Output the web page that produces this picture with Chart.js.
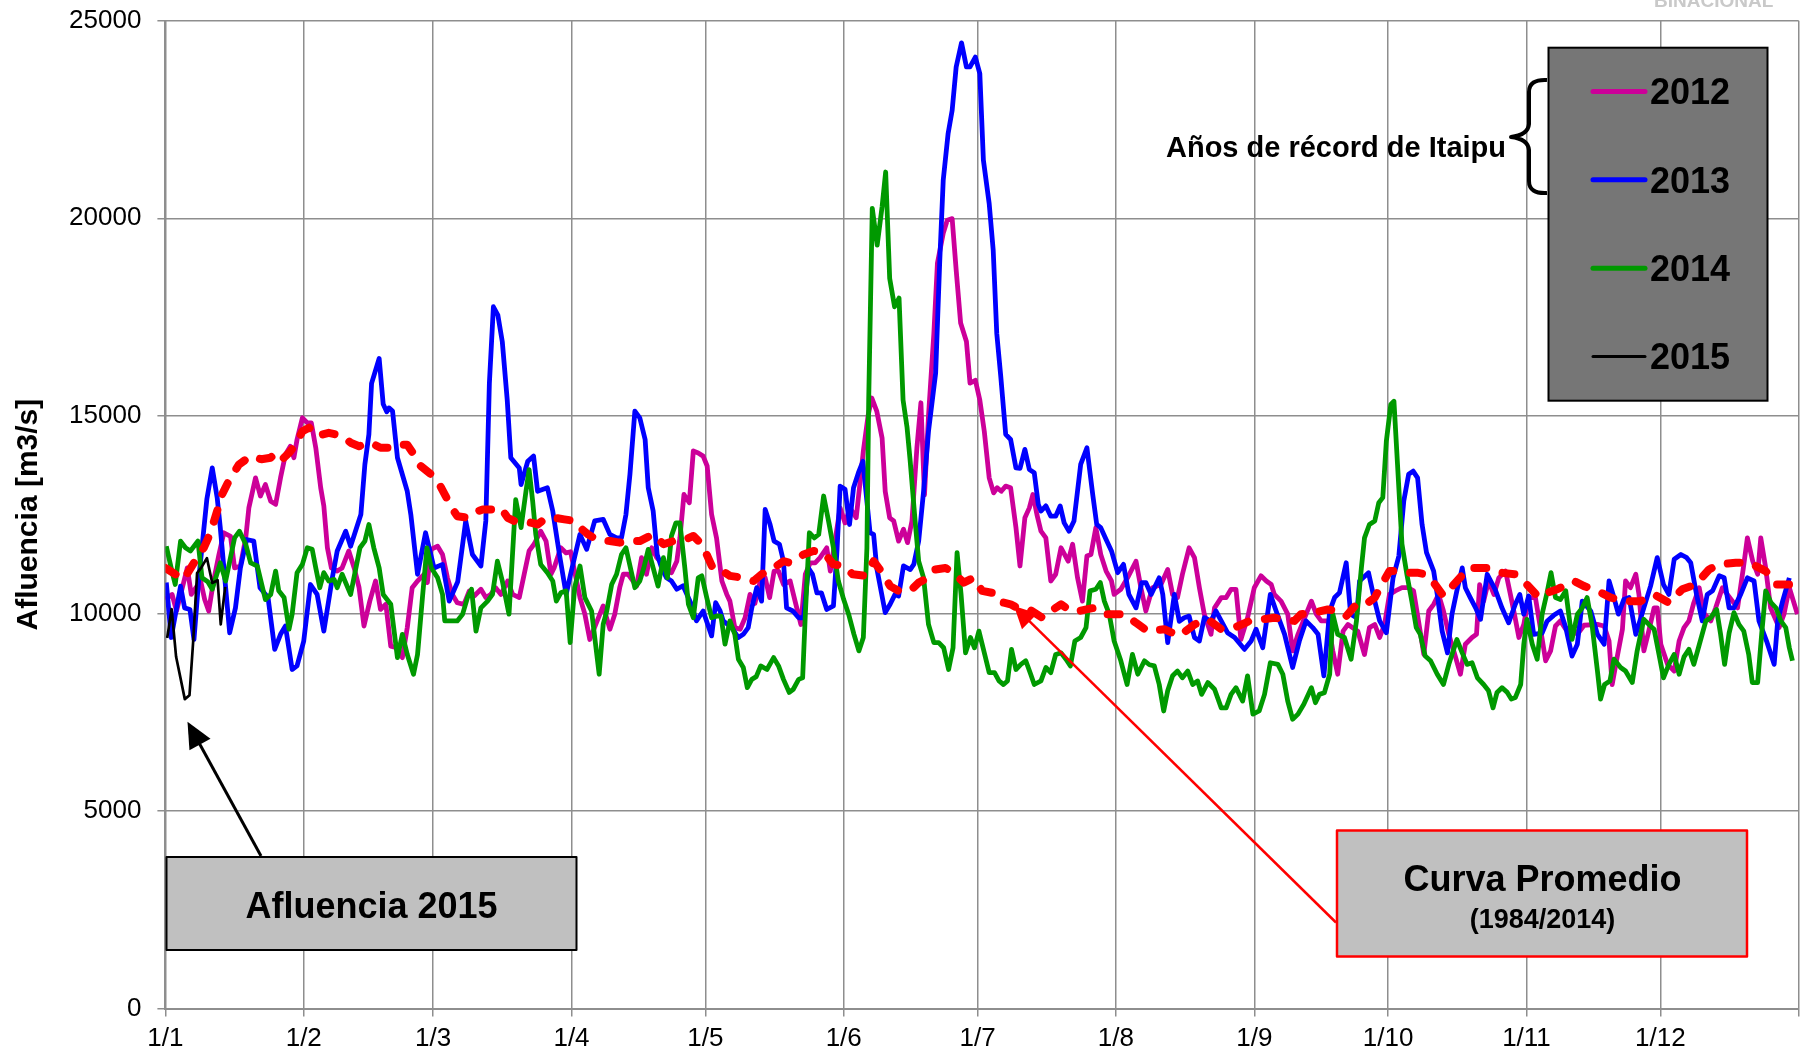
<!DOCTYPE html>
<html>
<head>
<meta charset="utf-8">
<script src="https://cdn.jsdelivr.net/npm/chart.js@4.4.1/dist/chart.umd.min.js"></script>
<style>
  html, body { margin: 0; padding: 0; background: #ffffff; }
  #wrap { position: relative; width: 1801px; height: 1055px; }
  canvas { display: block; }
</style>
</head>
<body>
<div id="wrap"><canvas id="c" width="1801" height="1055"></canvas></div>
<script>
// ---------------- DATA ----------------
const monthTicks  = [0, 31, 60, 91, 121, 152, 182, 213, 244, 274, 305, 335, 366];
const monthLabels = ['1/1','1/2','1/3','1/4','1/5','1/6','1/7','1/8','1/9','1/10','1/11','1/12',''];
const yTicks = [0, 5000, 10000, 15000, 20000, 25000];
const seriesNames = ['2012', '2013', '2014', '2015'];
const avgName = 'Curva Promedio (1984/2014)';

// [day of year, m3/s]
const flow2012 = [[0,10350],[1.5,10480],[2.5,10060],[4.9,11150],[5.8,10480],[7.9,10820],[8.8,10350],[9.7,10060],[10.8,10820],[12,11490],[13.1,12040],[14.6,11950],[15.5,11150],[16.8,11200],[18,11910],[18.7,12670],[20.2,13430],[21.3,12970],[22.4,13260],[23.6,12840],[24.7,12760],[25.8,13430],[26.9,14020],[28,14230],[28.8,13940],[29.5,14400],[30.7,14950],[31.8,14820],[32.7,14820],[33.7,14190],[34.8,13180],[35.5,12720],[36.3,11660],[37.2,11150],[38.5,11070],[39.6,11150],[41.1,11580],[42.3,11150],[43.4,10650],[44.5,9680],[45.8,10310],[47.1,10820],[48.2,10100],[49.4,10230],[50.5,9170],[51.8,9130],[53.1,8880],[54.2,9640],[55.3,10650],[56.5,10820],[58,10990],[58.7,10780],[59.5,11620],[61,11700],[62.1,11490],[63.2,10900],[64.3,10480],[65.4,10270],[66.9,10230],[68.1,10570],[69.2,10440],[70.7,10610],[71.8,10400],[72.9,10480],[74,10650],[75.2,10480],[76.7,10820],[77.8,10480],[79.3,10400],[80.4,10990],[81.5,11580],[82.6,11750],[84.1,12080],[85.3,11830],[86.4,10990],[87.1,11150],[88.6,11660],[89.8,11530],[90.8,11560],[92.9,10400],[94,9980],[95.1,9340],[98.1,10190],[99.6,9600],[100.7,9980],[101.8,10650],[102.6,10990],[103.7,10990],[105.6,10690],[106.7,11410],[107.8,10990],[109,11660],[110.1,11410],[112.3,11150],[113.4,11030],[114.6,11320],[115.3,11910],[116.2,13010],[117.4,12800],[118.3,14110],[119.4,14060],[120.5,13980],[121.4,13730],[122.4,12500],[123.5,11910],[124.7,10820],[125.8,10480],[126.5,10310],[127.6,9640],[128.8,9600],[129.9,9890],[131,10480],[132.1,10250],[133.3,10820],[134.4,10900],[135.4,10400],[136.4,11070],[137.4,11070],[138.5,10730],[140,10820],[141.1,10310],[142.4,9720],[143.4,10990],[144.5,11280],[145.6,11280],[146.7,11410],[148.2,11660],[149,11070],[151.2,12670],[152.3,12290],[153.4,12670],[154.8,12420],[155.7,13350],[156.4,14110],[157.5,15030],[158.3,15450],[159.4,15120],[160.6,14440],[161.3,13090],[162.3,12420],[163.2,12340],[164.3,11830],[165.4,12130],[166.3,11790],[167.3,12340],[168.4,14190],[169.3,15330],[170.1,13000],[171,15000],[172.2,17080],[173,18860],[174.3,19620],[175.2,19950],[176.3,19990],[177.2,18690],[178.2,17350],[179.5,16880],[180.3,15830],[181.5,15900],[182.5,15400],[183.5,14610],[184.6,13430],[185.6,13050],[186.4,13180],[187.3,13090],[188.3,13220],[189.4,13180],[190.6,12170],[191.5,11200],[192.6,12420],[193.6,12670],[194.4,13010],[195.3,12500],[196.2,12080],[197.3,11910],[198.4,10820],[199.5,10990],[200.7,11660],[202.3,11320],[203.3,11750],[204.4,10900],[205.5,10310],[206.5,11450],[207.4,11490],[208.5,12170],[209.6,11490],[210.8,11070],[212,10820],[212.6,10480],[214.1,10610],[215.6,10900],[217.5,11320],[218.6,10650],[219.7,10060],[221.2,10650],[223.1,10730],[224.6,11110],[225.7,10480],[226.8,10400],[227.9,10990],[229.4,11660],[230.6,11410],[231.7,10650],[232.8,9980],[234.3,9470],[235.1,10140],[236.6,10400],[237.7,10400],[238.8,10610],[239.9,10610],[241,9340],[242.5,9890],[244,10650],[245.5,10950],[246.7,10820],[247.8,10730],[248.5,10480],[250,10310],[251.5,9980],[252.6,9050],[253.8,9470],[255.3,9890],[256.8,10310],[257.9,9980],[259,9810],[260.5,9810],[261.6,9050],[262.7,8460],[263.9,9550],[265,9720],[267.2,9550],[268.7,8960],[269.8,9640],[271,9720],[272.1,9390],[273.2,9720],[274.3,10480],[275.6,10570],[277.1,10650],[278.5,10650],[279.7,10570],[280.8,9810],[282,8960],[283.1,10060],[284.2,10230],[285.3,10480],[286.4,10060],[287.6,9470],[288.7,9050],[290.2,8460],[291.3,9220],[292.8,9390],[293.8,9470],[294.5,10730],[295.4,10310],[296.5,10820],[297.7,10480],[298.8,10900],[300.3,11070],[301.4,10480],[302.3,9980],[303.3,9390],[304.4,9720],[305.5,10400],[307,10400],[308.1,9640],[309.3,8800],[310.4,9050],[311.5,9680],[312.6,9810],[313.8,9600],[315.2,9640],[316.4,9470],[317.9,9700],[320.9,9720],[322.4,9680],[323.5,9300],[324.2,8200],[325.3,8880],[326.5,9600],[327.2,10820],[328.3,10650],[329.5,10990],[330.2,10480],[331.3,9050],[332.4,9550],[333.6,10140],[334.3,10140],[335.1,9220],[336.6,8710],[338.1,8540],[339.2,9300],[340.3,9640],[341.4,9810],[342.5,10270],[343.7,10650],[344.8,10000],[346.3,9810],[347.4,10140],[348.9,10650],[350,10480],[352.3,10140],[353.6,11150],[354.5,11910],[355.7,11320],[356.8,10990],[357.5,11910],[358.6,11150],[359.7,10140],[361.6,9640],[362.7,9980],[363.9,10650],[365.7,9980]];

const flow2013 = [[0.2,10780],[1.3,9390],[3.4,10690],[4.3,10140],[5.5,10100],[6.4,9340],[7.5,10900],[9.3,12900],[10.5,13680],[11.6,12930],[12.3,12170],[13.5,10650],[14.4,9510],[15.7,10140],[16.8,11150],[18.2,11870],[19.8,11830],[21.2,10650],[23,10400],[24.5,9090],[25.8,9470],[26.9,9680],[28.4,8580],[29.5,8670],[31,9300],[32.5,10730],[34,10480],[35.5,9550],[37.4,10900],[38.5,11580],[40.4,12080],[41.5,11700],[43.8,12500],[44.7,13770],[45.6,14530],[46.2,15820],[47.9,16450],[48.8,15300],[49.6,15100],[50.1,15200],[50.9,15120],[52,13940],[54.2,13090],[55,12500],[56.5,10990],[58.3,12040],[60.2,11150],[62.1,11240],[63.6,10310],[65.5,10800],[67.3,12340],[68.8,11490],[70.7,11200],[71.8,12340],[72.6,15830],[73.5,17760],[74.5,17550],[75.5,16870],[76.6,15400],[77.4,13940],[79.3,13680],[79.7,13260],[81.2,13850],[82.5,13980],[83.4,13090],[85.6,13180],[86.8,12590],[88.3,11490],[89.8,10480],[90.8,10990],[92.9,12000],[94.4,11620],[96.2,12340],[98.1,12380],[99.6,12000],[101.1,11910],[102.2,11910],[103.2,12500],[104.1,13520],[105.2,15120],[106.3,14950],[107.5,14400],[108.2,13180],[109.3,12590],[110.2,11490],[111.2,11150],[112.3,10900],[113.4,10820],[114.6,10610],[116,10700],[117.7,10270],[119,9810],[120.5,10060],[122.4,9430],[123.3,10270],[124.3,10060],[125,9810],[126.9,9640],[128.4,9390],[129.5,9470],[130.6,9640],[131.4,10140],[132.5,10650],[133.6,10310],[134.4,12630],[135.5,12250],[136.4,11830],[137.6,11750],[138.5,11320],[139.2,10140],[140.6,10060],[141.9,9890],[143,9890],[144.1,11150],[145,10990],[146,10520],[147,10520],[148.2,10100],[149.7,10190],[150.5,11600],[151.2,13220],[152.3,13140],[153.3,12250],[154.2,13180],[155.3,13560],[156.3,13850],[157.9,12040],[158.7,12000],[159.4,11150],[161.3,10020],[162.4,10230],[163.5,10480],[164.3,10440],[165.4,11200],[166.9,11110],[167.7,11240],[168.8,11830],[169.9,13090],[171,14610],[172.6,16080],[173.5,18860],[174.3,20960],[175.4,22150],[176.3,22730],[177.2,23830],[178.4,24440],[179.5,23830],[180.3,23830],[181.5,24080],[182.5,23660],[183.3,21470],[184.6,20370],[185.5,19190],[186.3,17080],[187.2,15990],[188.3,14530],[189.4,14400],[190.6,13680],[191.5,13670],[192.6,14150],[193.6,13640],[194.7,13560],[195.6,12760],[196.2,12590],[197.3,12720],[198.4,12460],[199.5,12460],[200.5,12720],[201.4,12290],[202.5,12080],[203.6,12340],[205.1,13770],[206.5,14190],[207.8,13010],[208.7,12250],[209.6,12170],[210.8,11870],[212,11580],[213.4,11030],[214.7,11240],[215.9,10480],[217.5,10140],[218.8,10780],[219.7,10780],[220.9,10480],[222.7,10900],[223.5,10480],[224.6,9260],[226.1,10480],[227.2,9800],[228.3,9890],[229.4,9930],[230.6,9390],[231.7,9300],[232.8,9890],[234.3,9810],[235.4,10060],[236.6,9810],[238,9510],[239.6,9390],[241.8,9090],[243.3,9300],[244.4,9600],[245.9,9130],[247.6,10480],[248.9,10060],[250.8,9470],[252.6,8630],[254.1,9300],[255.6,9810],[257.1,9640],[258.3,9470],[259.6,8420],[260.9,10060],[262,10400],[263.1,10520],[264.6,11280],[265.6,9980],[266.9,9890],[267.6,10820],[269.6,11030],[271,10310],[272.1,9810],[273.6,9510],[275.1,10900],[276.4,11450],[277.5,12840],[278.6,13520],[279.6,13600],[280.6,13430],[281.6,12250],[282.6,11540],[284.2,11070],[285,10480],[286.1,9550],[287.3,9000],[288.3,9980],[289.4,10570],[290.6,11150],[291.3,10650],[292.4,10400],[293.6,10140],[294.7,9850],[296.2,10990],[298,10600],[299.5,10140],[301,9760],[302.5,10230],[303.5,10480],[304.4,9980],[305.5,10440],[306.6,9470],[308.5,9500],[309.6,9800],[311.1,9950],[312.6,10060],[313.8,9640],[315.2,8920],[316.4,9220],[317.5,10310],[319.4,10060],[320.9,9470],[322.4,9220],[323.5,10820],[324.4,10480],[325.6,9980],[326.8,10350],[328,10400],[329.5,9470],[331.3,10140],[332.8,10690],[334.3,11410],[335.7,10730],[336.9,10480],[338.1,11370],[339.6,11490],[340.9,11410],[341.8,11280],[343.1,10480],[344.4,9810],[345.5,10480],[346.7,10570],[348.2,10950],[349.3,10900],[350.4,10140],[351.5,10140],[353,10480],[354.5,10900],[356,10820],[357.1,9810],[358.8,9300],[360.5,8710],[361.3,9810],[362.4,10310],[363.9,10900]];

const flow2014 = [[0.2,11700],[1.3,11150],[2.2,10730],[3.4,11830],[4.5,11660],[5.6,11580],[7.3,11830],[8.2,10900],[9.5,10800],[10.5,10610],[12.3,11280],[13.5,10820],[15.5,11910],[16.6,12080],[18,11750],[19.1,11280],[20.6,11200],[22.4,10350],[23.6,10480],[24.7,11070],[25.4,10570],[26.6,10400],[27.7,9600],[28.4,9980],[29.5,11030],[30.7,11240],[31.8,11660],[32.9,11620],[33.7,11150],[34.6,10650],[35.5,11030],[36.6,10820],[37.8,10860],[38.5,10650],[39.6,10990],[41.5,10480],[43.6,11660],[44.7,11830],[45.6,12250],[46.7,11660],[47.9,11150],[48.8,10480],[50.5,10230],[52,8880],[53.1,9470],[54.2,8960],[55.6,8460],[56.5,8960],[57.6,10400],[58.6,11660],[59.6,11150],[61,10900],[62.1,10480],[62.6,9810],[63.9,9810],[65.4,9810],[66.6,9980],[67.7,10400],[68.6,10610],[69.6,9550],[70.7,10140],[72.2,10310],[73.3,10480],[74.4,11320],[75.5,10820],[77,9980],[78.5,12880],[79.7,12170],[80.8,13090],[81.5,13640],[82.3,12840],[83,12000],[84.1,11240],[85.6,11030],[86.8,10820],[87.6,10310],[88.6,10520],[89.8,10570],[90.7,9260],[91.7,10650],[92.9,11200],[94,10400],[95.5,10060],[97.2,8460],[98.1,9720],[98.9,10060],[100,10730],[101.1,10990],[102.2,11490],[103.2,11660],[105.2,10650],[106.3,10820],[107.2,11150],[108.2,11620],[109.3,11150],[110.4,10690],[111.6,11410],[112.5,10900],[113.4,11960],[114.4,12290],[115.3,12290],[116.4,11150],[117.2,10230],[118.3,9890],[119.4,10900],[120.2,10950],[121.3,10400],[122.4,9890],[123.5,9930],[124.5,9930],[125.4,9220],[126.5,9810],[127.6,9470],[128.4,8840],[129.5,8630],[130.4,8120],[131.4,8330],[132.4,8400],[133.4,8670],[134.8,8580],[136.3,8880],[137.4,8670],[138.5,8330],[139.8,8000],[140.7,8080],[141.9,8330],[142.8,8370],[143.4,9980],[144.3,12040],[145.4,11910],[146.4,12000],[147.5,12970],[148.6,12340],[149.7,11660],[150.8,10820],[152,10350],[153.1,9980],[154.3,9470],[155.4,9050],[156.4,9390],[157.2,11660],[157.6,15400],[158.4,20250],[159.5,19320],[160.6,20290],[161.4,21170],[162.3,18480],[163.4,17760],[164.4,17980],[165.3,15400],[166.2,14700],[166.9,13850],[168,12340],[168.8,11320],[169.9,10900],[171,9720],[172.2,9260],[173.3,9260],[174.4,9130],[175.5,8580],[176.5,9130],[177.4,11540],[178.3,10480],[179.3,9000],[180.4,9390],[181.3,9130],[182.3,9550],[183.6,8960],[184.6,8500],[185.8,8500],[186.8,8290],[187.8,8200],[188.7,8290],[189.6,9090],[190.6,8580],[191.7,8710],[192.8,8800],[193.9,8460],[194.7,8200],[196.2,8290],[197.3,8630],[198.4,8500],[199.5,8960],[200.7,9000],[201.8,8840],[202.8,8670],[203.8,9300],[205.1,9390],[206.3,9640],[207.2,10570],[208.5,10610],[209.5,10780],[210.4,10310],[211.5,9980],[212.6,9300],[214.1,8800],[215.5,8200],[216.7,8960],[217.9,8460],[219.4,8800],[220.5,8700],[221.6,8670],[222.7,8200],[223.7,7530],[224.6,8040],[225.7,8420],[226.8,8540],[227.9,8370],[229.1,8540],[230.2,8200],[231.3,8290],[232.2,7950],[233.6,8250],[235.1,8080],[236.6,7610],[237.7,7610],[238.8,7950],[239.9,8120],[241.4,7780],[242.5,8420],[243.7,7450],[245.1,7530],[246.3,7950],[247.6,8750],[249.3,8710],[250.4,8460],[251.5,7780],[252.6,7320],[253.8,7450],[255.1,7700],[256.8,8120],[257.7,7740],[258.6,7950],[259.7,7990],[260.9,8460],[261.6,9980],[262.7,9470],[264.2,9390],[265.7,8840],[266.9,9810],[268,11150],[268.7,11910],[269.8,12250],[271,12340],[271.9,12800],[272.8,12930],[273.6,14360],[274.6,15290],[275.3,15370],[276.1,13770],[277.1,11750],[278.2,10990],[279.3,10310],[280.3,9640],[281.2,9470],[282.3,8920],[283.5,8800],[285,8460],[286.4,8200],[287.6,8710],[289.4,9340],[290.6,9000],[291.7,8710],[292.8,8750],[294,8370],[295.4,8200],[296.5,8040],[297.5,7610],[298.4,8000],[299.5,8120],[300.7,8000],[301.6,7830],[302.5,7870],[303.7,8200],[304.4,9220],[305.1,9850],[306.3,9220],[307.4,8840],[308.5,9980],[309.6,10520],[310.5,11030],[311.5,10400],[312.6,10350],[313.8,10570],[315.2,9340],[316.4,9980],[317.5,10140],[318.6,10400],[319.7,9700],[320.9,8540],[321.6,7830],[322.5,8200],[323.7,8290],[324.6,8840],[326.1,8630],[327.2,8540],[328.7,8250],[329.8,9050],[331.3,9850],[332.4,9720],[333.6,9600],[334.7,8960],[335.7,8370],[336.9,8710],[338.1,8960],[339.2,8460],[340.3,8900],[341.4,9090],[342.5,8710],[343.7,9200],[345.2,9810],[346.3,9890],[347.6,10100],[348.5,9470],[349.4,8710],[350.4,9500],[351.5,10020],[352.6,9720],[353.7,9550],[354.8,8960],[355.6,8250],[356.8,8250],[357.7,9470],[358.6,10570],[359.8,10270],[360.9,10140],[362,9810],[363.1,9640],[363.9,9130],[364.6,8800]];

const flow2015 = [[0.4,9375],[1.4,10110],[2.4,8900],[4.35,7830],[5.4,7930],[6.2,9250],[7.1,11020],[8.0,11150],[9.3,11400],[10.5,10770],[11.7,10840],[12.4,9720],[13.4,10670]];

const flowAvg = [[0,11150],[4.1,10860],[6.4,11280],[8.6,11660],[10.1,12040],[11.6,12590],[12.7,13010],[14.2,13350],[16.5,13770],[19.1,13980],[21.5,13900],[23.6,13940],[24.7,14060],[26.2,13900],[27.7,14060],[29.2,14270],[30.7,14610],[32.2,14700],[34,14490],[36.6,14570],[39.6,14490],[41.5,14320],[43.4,14230],[46,14320],[48.2,14190],[50.5,14190],[52,14270],[54.2,14270],[55.7,14020],[57.2,13730],[59.5,13520],[61,13350],[62.8,12970],[63.9,12720],[65.4,12460],[67.7,12420],[69.2,12550],[71.1,12630],[73.3,12630],[75.2,12670],[76.7,12420],[78.2,12340],[80.4,12340],[83.4,12250],[84.9,12380],[87.1,12420],[89.4,12380],[91.6,12340],[92.9,12170],[94.7,12000],[96.6,11870],[99.6,11830],[101.8,11790],[103.7,11830],[106.3,11830],[109.3,12000],[111.6,11750],[113.8,11830],[115.7,11830],[118.3,11960],[120.2,11750],[121.1,11540],[122.8,11110],[125.4,11030],[126.5,10950],[129.5,10900],[131.8,10820],[133.6,10990],[136.3,11150],[138.5,11320],[140,11280],[143,11490],[145.2,11580],[147.5,11540],[149.7,11240],[152,11200],[154,10990],[156.8,10950],[158.7,11320],[160.9,10990],[162.4,10690],[164.3,10570],[166.9,10570],[168.8,10780],[171,10900],[172.5,11110],[174.8,11150],[176.6,11030],[178.9,10780],[181.1,10900],[183,10570],[185.3,10520],[186.4,10310],[189.4,10230],[190.9,10140],[193.6,10100],[196.5,9890],[198.4,10060],[200.7,10230],[202.9,10060],[204.8,10060],[208.1,10140],[210.4,9980],[214.9,9980],[217.5,9760],[220.1,9550],[223.8,9600],[227.2,9430],[230.6,9720],[233.6,9850],[236.6,9600],[239.6,9640],[243,9810],[248.5,9890],[250.4,9850],[253,9810],[254.5,9980],[257.5,10020],[260.5,10100],[262.7,10060],[264.6,9930],[267.2,10270],[269.5,10270],[271,10400],[272.8,10780],[274.3,11070],[276.2,11070],[278.2,11030],[280.5,11030],[282.3,10990],[284.2,10780],[286.4,10440],[289.1,10780],[292.1,11150],[296.2,11150],[299.2,11030],[302.5,10990],[305.1,10730],[307.8,10400],[309.6,10520],[311.9,10610],[315.6,10820],[317.9,10690],[320.9,10570],[323.9,10400],[326.8,10310],[330.6,10310],[333.6,10480],[336.9,10270],[339.9,10610],[342.9,10730],[345.9,11110],[348.2,11240],[351.9,11280],[354.9,11280],[358.6,11070],[360.9,10730],[363.9,10730],[365.4,10950]];

// ---------------- STYLE ----------------
const FONT = "'Liberation Sans', Arial, Helvetica, sans-serif";
const colors = { '2012': '#CC0099', '2013': '#0000FF', '2014': '#009900', '2015': '#000000', avg: '#FF0000' };
const gridColor = '#8e8e8e';
Chart.defaults.font.family = FONT;

const toXY = arr => arr.map(p => ({ x: p[0], y: p[1] }));

const annotations = {
  id: 'annotations',
  afterDraw(chart) {
    const c = chart.ctx;
    c.save();
    // faint logo text cut at top
    c.fillStyle = '#c9c9c9';
    c.font = 'bold 19px ' + FONT;
    c.textAlign = 'left'; c.textBaseline = 'alphabetic';
    c.fillText('BINACIONAL', 1654, 7);

    // legend box
    c.fillStyle = '#767676';
    c.fillRect(1548.5, 47.7, 219, 353);
    c.lineWidth = 2; c.strokeStyle = '#000';
    c.strokeRect(1548.5, 47.7, 219, 353);
    const ly = [91.5, 179.8, 268.2, 356.5];
    seriesNames.forEach((n, i) => {
      c.beginPath();
      c.strokeStyle = colors[n];
      c.lineWidth = n === '2015' ? 3 : 5;
      c.lineCap = 'round';
      c.moveTo(1593, ly[i]); c.lineTo(1645, ly[i]);
      c.stroke();
      c.fillStyle = '#000';
      c.font = 'bold 36px ' + FONT;
      c.textAlign = 'left'; c.textBaseline = 'alphabetic';
      c.fillText(n, 1650, ly[i] + 12.9);
    });

    // brace
    c.beginPath();
    c.strokeStyle = '#000'; c.lineWidth = 4; c.lineCap = 'butt'; c.lineJoin = 'round';
    c.moveTo(1547, 80);
    c.quadraticCurveTo(1529, 79, 1529, 92);
    c.lineTo(1529, 124);
    c.quadraticCurveTo(1528, 135, 1511, 137);
    c.quadraticCurveTo(1528, 139, 1529, 150);
    c.lineTo(1529, 181);
    c.quadraticCurveTo(1529, 194, 1547, 193);
    c.stroke();

    // "Años de récord de Itaipu"
    c.fillStyle = '#000';
    c.font = 'bold 29px ' + FONT;
    c.textAlign = 'right';
    c.fillText('Años de récord de Itaipu', 1506, 157);

    const arrow = (x0, y0, x1, y1, col, w, hl, hw) => {
      const dx = x1 - x0, dy = y1 - y0, L = Math.hypot(dx, dy);
      const ux = dx / L, uy = dy / L;
      c.beginPath();
      c.strokeStyle = col; c.lineWidth = w; c.lineCap = 'butt';
      c.moveTo(x0, y0); c.lineTo(x1 - ux * hl * 0.8, y1 - uy * hl * 0.8);
      c.stroke();
      c.beginPath();
      c.fillStyle = col;
      c.moveTo(x1, y1);
      c.lineTo(x1 - ux * hl - uy * hw, y1 - uy * hl + ux * hw);
      c.lineTo(x1 - ux * hl + uy * hw, y1 - uy * hl - ux * hw);
      c.closePath();
      c.fill();
    };
    // Afluencia 2015
    arrow(261, 856, 187.5, 721.7, '#000', 3, 26, 12);
    c.fillStyle = '#c0c0c0';
    c.fillRect(166.5, 857, 410, 93);
    c.lineWidth = 2; c.strokeStyle = '#000';
    c.strokeRect(166.5, 857, 410, 93);
    c.fillStyle = '#000';
    c.font = 'bold 36px ' + FONT;
    c.textAlign = 'center';
    c.fillText('Afluencia 2015', 371.5, 918);

    // Curva Promedio
    arrow(1336, 922.5, 1014, 606, '#FF0000', 2.5, 22, 11);
    c.fillStyle = '#c0c0c0';
    c.fillRect(1337, 830.5, 410, 126);
    c.lineWidth = 2.5; c.strokeStyle = '#FF0000';
    c.strokeRect(1337, 830.5, 410, 126);
    c.fillStyle = '#000';
    c.font = 'bold 36px ' + FONT;
    c.textAlign = 'center';
    c.fillText('Curva Promedio', 1542.5, 890.5);
    c.font = 'bold 27px ' + FONT;
    c.fillText('(1984/2014)', 1542.5, 927.5);
    c.restore();
  }
};

new Chart(document.getElementById('c'), {
  type: 'line',
  data: {
    datasets: [
      { label: '2015', data: toXY(flow2015), borderColor: colors['2015'], borderWidth: 2.7, order: 0 },
      { label: avgName, data: toXY(flowAvg), borderColor: colors.avg, borderWidth: 8, borderDash: [12, 17], borderCapStyle: 'round', borderJoinStyle: 'round', order: 1 },
      { label: '2014', data: toXY(flow2014), borderColor: colors['2014'], borderWidth: 4.8, order: 2 },
      { label: '2013', data: toXY(flow2013), borderColor: colors['2013'], borderWidth: 4.8, order: 3 },
      { label: '2012', data: toXY(flow2012), borderColor: colors['2012'], borderWidth: 4.8, order: 4 }
    ]
  },
  options: {
    responsive: false,
    animation: false,
    devicePixelRatio: 1,
    layout: { padding: { top: 20.7, right: 2.3, left: 0, bottom: 0 } },
    elements: { point: { radius: 0, hoverRadius: 0 }, line: { tension: 0, fill: false, borderJoinStyle: 'round' } },
    plugins: { legend: { display: false }, tooltip: { enabled: false } },
    events: [],
    scales: {
      x: {
        type: 'linear', min: 0, max: 366,
        afterBuildTicks: s => { s.ticks = monthTicks.map(v => ({ value: v })); },
        afterFit: s => { s.height = 46.5; s.paddingLeft = 0; s.paddingRight = 0; },
        ticks: {
          autoSkip: false, maxRotation: 0, padding: 7, color: '#000',
          font: { size: 26, family: FONT },
          callback: v => { const i = monthTicks.indexOf(v); return i >= 0 ? monthLabels[i] : ''; }
        },
        grid: { color: gridColor, lineWidth: 1.5, tickLength: 8, drawTicks: true },
        border: { color: gridColor, width: 2 }
      },
      y: {
        min: 0, max: 25000,
        afterBuildTicks: s => { s.ticks = yTicks.map(v => ({ value: v })); },
        afterFit: s => { s.width = 165.4; s.paddingTop = 0; s.paddingBottom = 0; },
        ticks: { padding: 16, color: '#000', font: { size: 26, family: FONT }, callback: v => String(v) },
        grid: { color: gridColor, lineWidth: 1.5, tickLength: 8 },
        border: { color: gridColor, width: 2 },
        title: { display: true, text: 'Afluencia [m3/s]', color: '#000', font: { size: 30, weight: 'bold', family: FONT }, padding: { top: 10.7, bottom: 0 } }
      }
    }
  },
  plugins: [annotations]
});
</script>
</body>
</html>
